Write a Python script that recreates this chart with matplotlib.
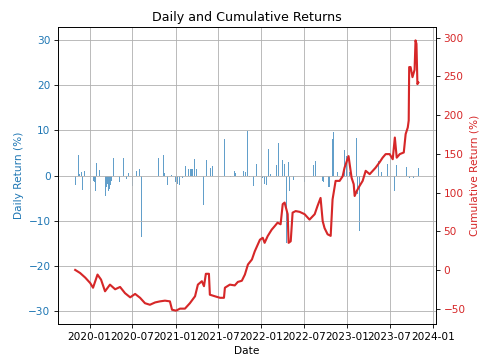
import matplotlib
matplotlib.use("Agg")
import matplotlib.pyplot as plt
import pandas as pd

# cumulative return (%)
cum_dates = [
    "2019-11-01", "2019-11-22", "2019-12-14", "2020-01-04", "2020-01-16", "2020-02-04",
    "2020-02-19", "2020-03-07", "2020-03-28", "2020-04-19", "2020-05-10", "2020-05-31",
    "2020-06-22", "2020-07-13", "2020-08-03", "2020-08-24", "2020-09-14", "2020-10-06",
    "2020-10-27", "2020-11-17", "2020-12-08", "2020-12-17", "2021-01-03", "2021-01-20",
    "2021-02-10", "2021-03-03", "2021-03-25", "2021-04-06", "2021-04-23", "2021-05-02",
    "2021-05-10", "2021-05-23", "2021-05-27", "2021-06-17", "2021-07-09", "2021-07-26",
    "2021-07-30", "2021-08-20", "2021-09-10", "2021-09-23", "2021-10-10", "2021-10-23",
    "2021-11-05", "2021-11-22", "2021-12-04", "2021-12-26", "2022-01-07", "2022-01-15",
    "2022-01-28", "2022-02-14", "2022-02-27", "2022-03-11", "2022-03-24", "2022-04-02",
    "2022-04-10", "2022-04-23", "2022-04-27", "2022-05-06", "2022-05-14", "2022-05-27",
    "2022-06-13", "2022-07-04", "2022-07-25", "2022-08-16", "2022-08-28", "2022-09-10",
    "2022-09-19", "2022-09-27", "2022-10-10", "2022-10-23", "2022-10-31", "2022-11-13",
    "2022-11-30", "2022-12-13", "2022-12-21", "2023-01-07", "2023-01-20", "2023-01-29",
    "2023-02-02", "2023-02-11", "2023-02-23", "2023-03-08", "2023-03-21", "2023-04-07",
    "2023-04-20", "2023-05-02", "2023-05-19", "2023-06-01", "2023-06-14", "2023-07-01",
    "2023-07-14", "2023-07-23", "2023-07-31", "2023-08-13", "2023-08-30", "2023-09-07",
    "2023-09-16", "2023-09-20", "2023-09-22", "2023-09-28", "2023-10-06", "2023-10-15",
    "2023-10-19", "2023-10-23", "2023-10-27", "2023-10-31",
]
cum_values = [
    0, -4, -10, -17, -23, -6,
    -12.5, -27.6, -19, -25, -22, -30,
    -35.4, -31, -36, -43, -45, -42,
    -40.6, -39.7, -40.6, -51.4, -52.6, -50,
    -50, -43, -34, -19, -14.6, -21,
    -5, -5, -32, -34, -36, -36,
    -23, -19, -20, -15.5, -14, -6,
    7, 13.5, 24, 39, 41.5, 35,
    43.7, 52, 56.6, 61, 59, 85,
    87, 72, 35, 37, 74, 76,
    75, 72, 65, 72, 82.6, 93,
    63, 54, 46, 44, 91, 115,
    115, 121, 132, 147, 119, 110.7,
    95.5, 102, 108.5, 115, 128, 123.7,
    128, 132, 139, 145, 149.6, 149.6,
    143, 171, 145, 149.6, 151.7, 175.5,
    184, 193, 262, 262, 249, 258.5,
    296.5, 292, 240, 242,
]

# daily return (%) bars
bar_dates = [
    "2019-11-03", "2019-11-15", "2019-11-19", "2019-11-26", "2019-12-03", "2019-12-09",
    "2020-01-18", "2020-01-22", "2020-01-26", "2020-02-01", "2020-02-06", "2020-02-14",
    "2020-03-09", "2020-03-13", "2020-03-17", "2020-03-21", "2020-03-25", "2020-03-29",
    "2020-04-02", "2020-04-14", "2020-05-09", "2020-05-26", "2020-05-31", "2020-06-08",
    "2020-06-16", "2020-07-03", "2020-07-20", "2020-07-31", "2020-08-10", "2020-10-20",
    "2020-10-31", "2020-11-10", "2020-11-14", "2020-11-27", "2020-12-16", "2021-01-02",
    "2021-01-08", "2021-01-16", "2021-01-20", "2021-01-31", "2021-02-14", "2021-02-27",
    "2021-03-04", "2021-03-10", "2021-03-16", "2021-03-22", "2021-04-02", "2021-04-28",
    "2021-05-11", "2021-05-31", "2021-06-06", "2021-07-29", "2021-08-23", "2021-09-09",
    "2021-09-15", "2021-10-16", "2021-10-24", "2021-11-04", "2021-11-11", "2021-11-28",
    "2021-12-12", "2022-01-06", "2022-01-16", "2022-01-23", "2022-02-02", "2022-02-09",
    "2022-03-07", "2022-03-16", "2022-03-31", "2022-04-10", "2022-04-18", "2022-04-27",
    "2022-04-30", "2022-05-16", "2022-07-05", "2022-08-09", "2022-08-18", "2022-08-30",
    "2022-09-18", "2022-09-22", "2022-10-12", "2022-10-19", "2022-10-31", "2022-11-06",
    "2022-11-23", "2022-12-22", "2022-12-31", "2023-01-11", "2023-02-09", "2023-02-16",
    "2023-02-23", "2023-03-01", "2023-03-12", "2023-05-16", "2023-05-26", "2023-06-23",
    "2023-07-23", "2023-08-01", "2023-09-09", "2023-09-23", "2023-10-10", "2023-10-31",
]
bar_values = [
    -2.1, 4.6, 0.3, 0.7, -3.3, 1.0,
    -1.3, -1.5, -3.5, 2.7, -0.3, 1.2,
    -4.6, -2.5, -1.8, -3.5, -3.0, -2.2,
    -1.3, 3.8, -1.5, 3.8, -0.7, -0.7,
    0.6, -2.4, 0.9, 1.5, -13.6, 3.9,
    1.5, 4.5, 0.6, -2.0, 0.2, -1.5,
    -1.8, -2.1, 2.6, -0.5, 2.2, 1.5,
    1.5, 1.4, 1.5, 3.7, 1.4, -6.5,
    3.5, 1.6, 2.1, 8.0, -0.4, 1.0,
    0.5, 1.0, 0.7, 9.8, -0.4, -2.3,
    2.6, -0.5, -1.9, -2.0, 5.8, 0.4,
    2.3, 7.3, 3.4, 2.5, -14.9, 3.0,
    -3.4, -1.1, -1.5, 2.3, 3.3, 3.3,
    -1.3, -1.5, -2.6, -2.6, 8.0, 9.7,
    0.8, 5.6, 4.4, 0.8, 8.3, -4.0,
    -12.4, -0.5, -0.5, 3.3, 0.8, 2.6,
    -3.4, 2.4, 2.0, -0.6, -0.6, 1.7,
]

cum_x = pd.to_datetime(cum_dates)
bar_x = pd.to_datetime(bar_dates)

fig, ax1 = plt.subplots(figsize=(500 / 76, 363 / 76), dpi=76)
fig.subplots_adjust(left=0.116, right=0.872, top=0.926, bottom=0.107)

ax1.bar(bar_x, bar_values, width=4, color='tab:blue', alpha=0.7)
ax1.set_xlabel("Date")
ax1.set_ylabel("Daily Return (%)", color='tab:blue')
ax1.tick_params(axis='y', labelcolor='tab:blue')
ax1.set_ylim(-33, 33)
ax1.grid(True)

ax2 = ax1.twinx()
ax2.plot(cum_x, cum_values, color='tab:red', lw=2)
ax2.set_ylabel("Cumulative Return (%)", color='tab:red')
ax2.tick_params(axis='y', labelcolor='tab:red')

plt.title("Daily and Cumulative Returns")
fig.savefig("out.png")
